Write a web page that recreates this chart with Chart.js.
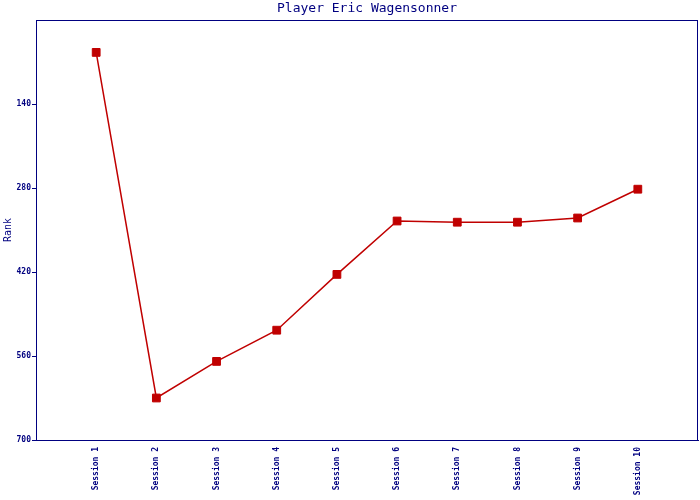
<!DOCTYPE html>
<html>
<head>
<meta charset="utf-8">
<script src="https://cdn.jsdelivr.net/npm/chart.js@4/dist/chart.umd.min.js"></script>
<style>
html,body{margin:0;padding:0;background:#fff;}
canvas{display:block;}
</style>
</head>
<body>
<canvas id="c" width="700" height="500"></canvas>
<script>
const categories = ['Session 1','Session 2','Session 3','Session 4','Session 5','Session 6','Session 7','Session 8','Session 9','Session 10'];
const rankValues = [54, 630, 569, 517, 424, 335, 337, 337, 330, 282];
const yTicks = [140, 280, 420, 560, 700];
const titleText = 'Player Eric Wagensonner';
const yAxisTitle = 'Rank';

const NAVY = '#000080';
const RED = '#C00000';
const MONO = '"DejaVu Sans Mono", "Liberation Mono", monospace';

const frame = {
  id: 'frame',
  afterDraw(chart) {
    const a = chart.chartArea, ctx = chart.ctx;
    ctx.save();
    ctx.strokeStyle = NAVY;
    ctx.lineWidth = 1;
    ctx.strokeRect(Math.round(a.left) + 0.5, Math.round(a.top) + 0.5, Math.round(a.right - a.left) - 1, Math.round(a.bottom - a.top));
    ctx.restore();
  }
};

new Chart(document.getElementById('c'), {
  type: 'line',
  data: {
    datasets: [{
      data: rankValues.map((v, i) => ({x: i + 1, y: v})),
      borderColor: RED,
      backgroundColor: RED,
      borderWidth: 1.5,
      pointStyle: 'rect',
      pointRadius: 5.5,
      pointBorderWidth: 1,
      pointBorderColor: RED,
      pointBackgroundColor: RED,
      tension: 0,
      fill: false
    }]
  },
  options: {
    responsive: false,
    animation: false,
    layout: {autoPadding: false, padding: {left: 0, right: 2, top: 0, bottom: 0}},
    plugins: {
      legend: {display: false},
      tooltip: {enabled: false},
      title: {
        display: true,
        fullSize: false,
        text: titleText,
        color: NAVY,
        font: {family: MONO, size: 13, lineHeight: 1, weight: 'normal'},
        padding: {top: 2, bottom: 5},
        align: 'center'
      }
    },
    scales: {
      x: {
        type: 'linear',
        min: 0,
        max: 11,
        grid: {display: false, drawTicks: false, tickLength: 0},
        border: {display: true, color: NAVY},
        afterBuildTicks(scale) {
          scale.ticks = categories.map((c, i) => ({value: i + 1}));
        },
        afterFit(scale) {
          scale.height = 60;
          scale.paddingLeft = 0;
          scale.paddingRight = 0;
        },
        ticks: {
          autoSkip: false,
          maxRotation: 90,
          minRotation: 90,
          padding: 7,
          color: NAVY,
          font: {family: MONO, size: 8, weight: 'bold'},
          callback: (v) => categories[v - 1] || ''
        }
      },
      y: {
        reverse: true,
        min: 0,
        max: 700,
        afterBuildTicks(scale) {
          scale.ticks = yTicks.map(v => ({value: v}));
        },
        afterFit(scale) {
          scale.width = 36;
          scale.paddingTop = 0;
          scale.paddingBottom = 0;
        },
        grid: {drawOnChartArea: false, drawTicks: true, tickLength: 4, color: NAVY},
        border: {display: true, color: NAVY},
        title: {
          display: true,
          text: yAxisTitle,
          color: NAVY,
          font: {family: MONO, size: 10},
          padding: {top: 2, bottom: 0}
        },
        ticks: {
          padding: 1,
          color: NAVY,
          font: {family: MONO, size: 8, weight: 'bold'}
        }
      }
    }
  },
  plugins: [frame]
});
</script>
</body>
</html>
